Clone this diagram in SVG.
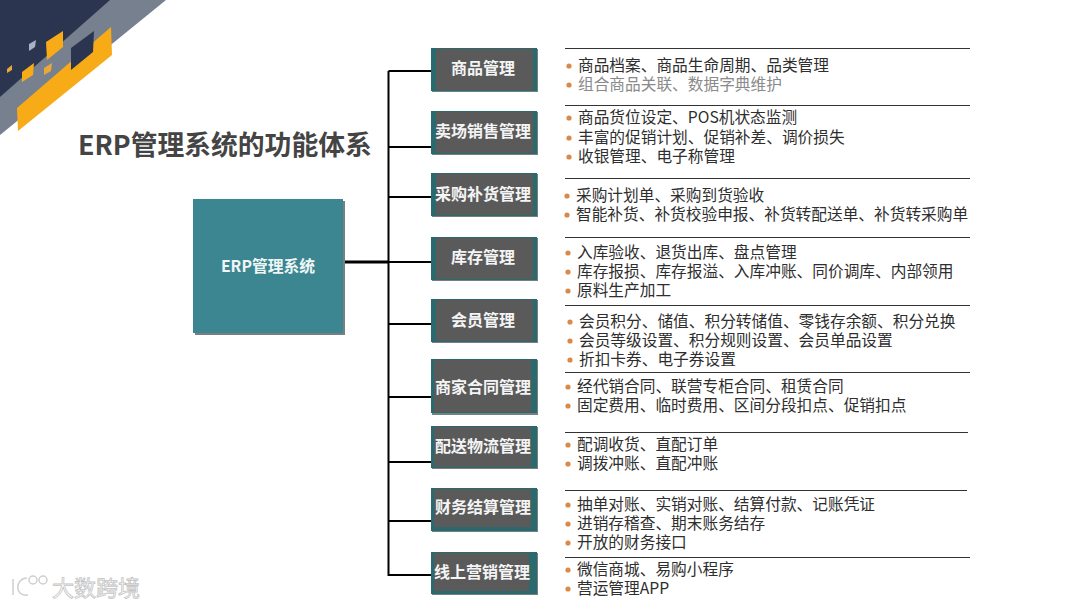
<svg xmlns="http://www.w3.org/2000/svg" width="1080" height="608" viewBox="0 0 1080 608">
<defs>
<style>
text{font-family:"Noto Sans CJK SC","Noto Sans",sans-serif}
.shadow{fill:#3c4a4a;opacity:.7}
.teal{fill:#2a6a6e}
.grey{fill:#5a5a5a}
.lbl{font-size:16px;font-weight:700;fill:#f4f4f4;text-anchor:middle}
.rule{stroke:#333;stroke-width:1;fill:none}
.it{font-size:15.7px;fill:#2e2e2e}
.dim{fill:#8a8a8a}
.dot{fill:#d98a4a;r:2.6px}
.c{stroke:#000;stroke-width:2;fill:none}
.wm{fill:none;stroke:#cfcfcf;stroke-width:1.5}
</style>
</defs>
<rect width="1080" height="608" fill="#fff"/>
<g id="corner">
<polygon points="0,0 166,0 0,135" fill="#77808f"/>
<polygon points="0,0 110,0 0,97" fill="#2b3550"/>
<polygon points="17,108 111,27 112,55 18,131" fill="#f7ab17"/>
<polygon points="71,48 94,31 93,52 71,70" fill="#2b3550"/>
<polygon points="46,42 63,31 63,47 47,60" fill="#f7ab17"/>
<polygon points="22,72 34,63 33,75 22,82" fill="#f7ab17"/>
<polygon points="44,68 52,63 51,71 44,75" fill="#e8a93a"/>
<polygon points="7,69 12,65 12,70 7,73" fill="#e8a93a"/>
<polygon points="29,44 36,40 35,47 29,51" fill="#a9b2c4"/>
</g>
<text x="78" y="155" font-size="26.8" font-weight="700" fill="#444">ERP管理系统的功能体系</text>
<g id="connectors">
<path class="c" d="M388.500 71V576"/>
<path class="c" d="M388.500 71H431M388.500 147H431M388.500 197H431M388.500 262H431M388.500 324H431M388.500 397H431M388.500 462H431M388.500 521H431M388.500 575H431"/>
<path stroke="#000" stroke-width="3" fill="none" d="M345 262H389"/>
</g>
<g id="root">
<rect class="shadow" x="195" y="201" width="150" height="134"/>
<rect x="193" y="199" width="150" height="134" fill="#3b8691"/>
<text x="268" y="272" font-size="15.8" font-weight="700" fill="#eef6f6" text-anchor="middle">ERP管理系统</text>
</g>
<g id="n1"><rect class="shadow" x="432" y="49" width="106" height="43"/><rect class="teal" x="431" y="48" width="106" height="43"/><rect class="grey" x="436" y="49" width="97" height="41"/><text class="lbl" x="483" y="74">商品管理</text></g>
<g id="n2"><rect class="shadow" x="432" y="112" width="106" height="43"/><rect class="teal" x="431" y="111" width="106" height="43"/><rect class="grey" x="436" y="112" width="97" height="41"/><text class="lbl" x="483" y="137">卖场销售管理</text></g>
<g id="n3"><rect class="shadow" x="432" y="174" width="106" height="43"/><rect class="teal" x="431" y="173" width="106" height="43"/><rect class="grey" x="436" y="174" width="97" height="41"/><text class="lbl" x="483" y="200">采购补货管理</text></g>
<g id="n4"><rect class="shadow" x="432" y="238" width="106" height="43"/><rect class="teal" x="431" y="237" width="106" height="43"/><rect class="grey" x="436" y="238" width="97" height="41"/><text class="lbl" x="483" y="263">库存管理</text></g>
<g id="n5"><rect class="shadow" x="432" y="300" width="106" height="43"/><rect class="teal" x="431" y="299" width="106" height="43"/><rect class="grey" x="436" y="300" width="97" height="41"/><text class="lbl" x="483" y="326">会员管理</text></g>
<g id="n6"><rect class="shadow" x="432" y="360" width="106" height="55"/><rect class="teal" x="431" y="359" width="106" height="54"/><rect class="grey" x="434" y="360" width="97" height="52"/><text class="lbl" x="483" y="393">商家合同管理</text></g>
<g id="n7"><rect class="shadow" x="432" y="427" width="106" height="42"/><rect class="teal" x="431" y="426" width="106" height="42"/><rect class="grey" x="434" y="427" width="97" height="40"/><text class="lbl" x="483" y="452">配送物流管理</text></g>
<g id="n8"><rect class="shadow" x="432" y="489" width="106" height="43"/><rect class="teal" x="431" y="488" width="106" height="43"/><rect class="grey" x="434" y="489" width="97" height="38"/><text class="lbl" x="483" y="513">财务结算管理</text></g>
<g id="n9"><rect class="shadow" x="432" y="553" width="106" height="42"/><rect class="teal" x="431" y="552" width="106" height="42"/><rect class="grey" x="434" y="553" width="95" height="38"/><text class="lbl" x="482" y="578">线上营销管理</text></g>
<g id="rules">
<path class="rule" d="M565 48.500H970M565 105.500H970M565 178.500H970M565 237.500H970M565 305.500H970M565 372.500H970M565 432.500H968M565 490.500H967M565 557.500H970"/>
</g>
<g id="details">
<circle class="dot" cx="569" cy="66" r="2.6"/><text class="it" x="578" y="71">商品档案、商品生命周期、品类管理</text>
<circle class="dot" cx="569" cy="85" r="2.6"/><text class="it dim" x="578" y="90">组合商品关联、数据字典维护</text>
<circle class="dot" cx="569" cy="118" r="2.6"/><text class="it" x="578" y="123">商品货位设定、POS机状态监测</text>
<circle class="dot" cx="569" cy="138" r="2.6"/><text class="it" x="578" y="143">丰富的促销计划、促销补差、调价损失</text>
<circle class="dot" cx="569" cy="157" r="2.6"/><text class="it" x="578" y="162">收银管理、电子称管理</text>
<circle class="dot" cx="567" cy="196" r="2.6"/><text class="it" x="576" y="201">采购计划单、采购到货验收</text>
<circle class="dot" cx="567" cy="215" r="2.6"/><text class="it" x="576" y="220">智能补货、补货校验申报、补货转配送单、补货转采购单</text>
<circle class="dot" cx="568" cy="253" r="2.6"/><text class="it" x="577" y="258">入库验收、退货出库、盘点管理</text>
<circle class="dot" cx="568" cy="272" r="2.6"/><text class="it" x="577" y="277">库存报损、库存报溢、入库冲账、同价调库、内部领用</text>
<circle class="dot" cx="568" cy="291" r="2.6"/><text class="it" x="577" y="296">原料生产加工</text>
<circle class="dot" cx="570" cy="322" r="2.6"/><text class="it" x="579" y="327">会员积分、储值、积分转储值、零钱存余额、积分兑换</text>
<circle class="dot" cx="570" cy="341" r="2.6"/><text class="it" x="579" y="346">会员等级设置、积分规则设置、会员单品设置</text>
<circle class="dot" cx="570" cy="360" r="2.6"/><text class="it" x="579" y="365">折扣卡券、电子券设置</text>
<circle class="dot" cx="568" cy="387" r="2.6"/><text class="it" x="577" y="392">经代销合同、联营专柜合同、租赁合同</text>
<circle class="dot" cx="568" cy="406" r="2.6"/><text class="it" x="577" y="411">固定费用、临时费用、区间分段扣点、促销扣点</text>
<circle class="dot" cx="568" cy="445" r="2.6"/><text class="it" x="577" y="450">配调收货、直配订单</text>
<circle class="dot" cx="568" cy="464" r="2.6"/><text class="it" x="577" y="469">调拨冲账、直配冲账</text>
<circle class="dot" cx="568" cy="505" r="2.6"/><text class="it" x="577" y="510">抽单对账、实销对账、结算付款、记账凭证</text>
<circle class="dot" cx="568" cy="524" r="2.6"/><text class="it" x="577" y="529">进销存稽查、期末账务结存</text>
<circle class="dot" cx="568" cy="543" r="2.6"/><text class="it" x="577" y="548">开放的财务接口</text>
<circle class="dot" cx="568" cy="570" r="2.6"/><text class="it" x="577" y="575">微信商城、易购小程序</text>
<circle class="dot" cx="568" cy="589" r="2.6"/><text class="it" x="577" y="594">营运管理APP</text>
</g>
<g id="watermark">
<text x="52" y="596" font-size="22" fill="#fff" stroke="#c4c4c4" stroke-width=".8">大数跨境</text>
<path class="wm" d="M13 579V595M27 578C15 578 14 597 28 595"/>
<circle class="wm" cx="33" cy="580" r="4"/><circle class="wm" cx="43" cy="580" r="4"/>
</g>
</svg>
